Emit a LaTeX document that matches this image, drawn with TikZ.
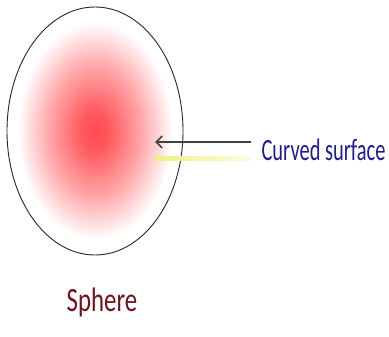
\documentclass[tikz,border=0pt]{standalone}
\usepackage{fontspec}
\setmainfont{Carlito}
\usetikzlibrary{shapes.geometric,arrows.meta}
\definecolor{blobred}{RGB}{255,75,80}
\definecolor{labelblue}{RGB}{30,30,140}
\definecolor{labelred}{RGB}{110,20,30}
\definecolor{arrowgray}{RGB}{65,65,65}
\definecolor{hiyellow}{RGB}{240,240,130}
\definecolor{hiyellowlight}{RGB}{252,252,225}
\pgfdeclareradialshading{blob}{\pgfpoint{0bp}{0bp}}{%
  color(0bp)=(blobred); color(4bp)=(blobred!92!white);
  color(13bp)=(blobred!50!white); color(22bp)=(white); color(50bp)=(white)}
\tikzset{
  spherebody/.style={ellipse, draw=black!85, line width=0.9pt, shading=blob,
    minimum width=176pt, minimum height=248pt, inner sep=0pt},
  labeltext/.style={inner sep=0pt, font=\fontsize{31}{31}\selectfont, transform shape},
  pointer/.style={draw=arrowgray, line width=1.8pt, -{Straight Barb[length=6pt,width=12pt,line width=1.6pt]}},
}
\begin{document}
\begin{tikzpicture}[x=1pt,y=-1pt]
\useasboundingbox[fill=white] (0,0) rectangle (389,337);
\node[spherebody] (sph) at (95,131) {};
\node[labeltext, text=labelblue, anchor=center, xscale=0.66] (cs) at (323.5,150) {Curved surface};
\node[labeltext, text=labelred, xscale=0.73, font=\fontsize{34}{34}\selectfont] (lbl) at (102,302) {Sphere};
\coordinate (tail) at (251,142);
\coordinate (tip) at (155,142);
\shade[left color=hiyellow, right color=hiyellowlight] (155,156.5) rectangle (251,160.5);
\draw[pointer] (tail) -- (tip);
\end{tikzpicture}
\end{document}
